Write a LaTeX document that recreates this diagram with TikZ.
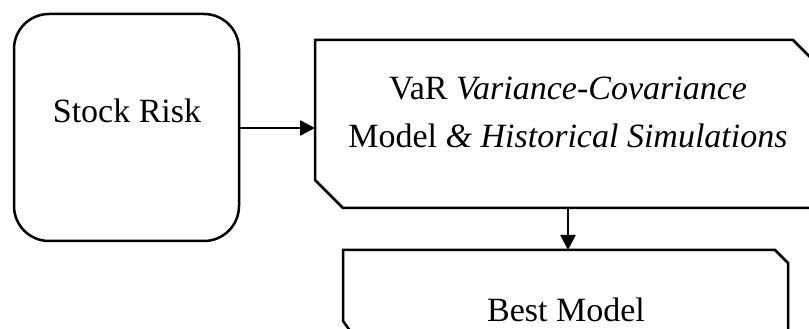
\documentclass[tikz,border=0pt]{standalone}
\usepackage{fontspec}
\setmainfont{Liberation Serif}
\usetikzlibrary{arrows.meta}
\begin{document}
\begin{tikzpicture}[x=1pt,y=1pt,
  boxline/.style={draw=black, line width=2.5pt, line join=miter},
  lbl/.style={inner sep=0pt, anchor=base, font=\fontsize{34}{48}\selectfont},
  conn/.style={draw=black, line width=2.5pt, -{Triangle[length=15pt,width=15pt]}}]
\useasboundingbox (0,0) rectangle (809,329);
\clip (0,0) rectangle (809,329);
% Stock Risk
\node[boxline, rounded corners=35pt, minimum width=225pt, minimum height=227pt, inner sep=0pt] (sr) at (126.5,201.5) {};
\node[lbl] (srt) at (127,206) {Stock Risk};
% middle chamfered box
\draw[boxline] (315,289) -- (793,289) -- (821,261) -- (821,121) -- (343,121) -- (315,149) -- cycle;
\coordinate (mw) at (315,201);
\coordinate (mb) at (568,121);
\node[lbl] (m1) at (568,229) {VaR \textit{Variance-Covariance}};
\node[lbl] (m2) at (568,181) {Model \textit{\& Historical Simulations}};
% best model box
\draw[boxline] (343,79) -- (775,79) -- (788,66) -- (788,-10) -- (356,-10) -- (343,8) -- cycle;
\coordinate (bt) at (568,79);
\node[lbl] (bm) at (566,7) {Best Model};
% connectors
\draw[conn] (sr.east |- mw) -- (mw);
\draw[conn] (mb) -- (bt);
\end{tikzpicture}
\end{document}
